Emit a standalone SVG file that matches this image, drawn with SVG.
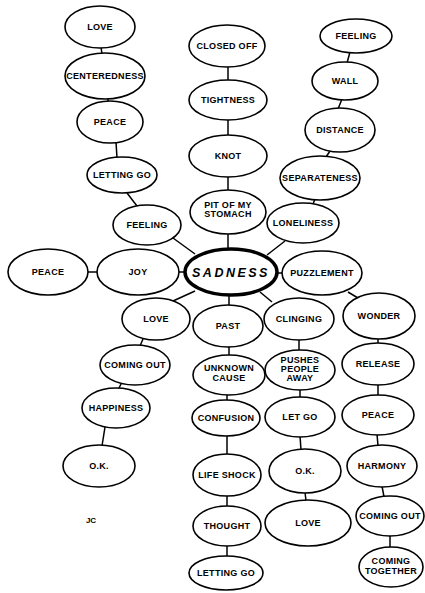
<svg xmlns="http://www.w3.org/2000/svg" width="425" height="593" viewBox="0 0 425 593">
<style>
.n ellipse{fill:#fff;stroke:#000;stroke-width:1.6}
.n text{font-family:"Liberation Sans",Arial,sans-serif;font-size:9px;font-weight:bold;text-anchor:middle;fill:#000;letter-spacing:0.3px}
#c line{stroke:#000;stroke-width:1.5}
</style>
<rect width="425" height="593" fill="#fff"/>
<g id="c">
<line x1="101" y1="47" x2="102" y2="54"/>
<line x1="108" y1="98" x2="108" y2="102"/>
<line x1="116" y1="142" x2="117" y2="158"/>
<line x1="127" y1="193" x2="137" y2="206"/>
<line x1="173" y1="238" x2="195" y2="254"/>
<line x1="228" y1="66" x2="228" y2="81"/>
<line x1="228" y1="119" x2="228" y2="135"/>
<line x1="228" y1="176" x2="228" y2="190"/>
<line x1="228" y1="233" x2="228" y2="250"/>
<line x1="350" y1="52" x2="347" y2="63"/>
<line x1="342" y1="99" x2="338" y2="109"/>
<line x1="330" y1="151" x2="326" y2="157"/>
<line x1="315" y1="199" x2="313" y2="204"/>
<line x1="267" y1="255" x2="285" y2="241"/>
<line x1="276" y1="273" x2="283" y2="273"/>
<line x1="179" y1="272" x2="186" y2="272"/>
<line x1="87" y1="272" x2="98" y2="272"/>
<line x1="173" y1="301" x2="195" y2="291"/>
<line x1="229" y1="294" x2="229" y2="306"/>
<line x1="260" y1="292" x2="272" y2="302"/>
<line x1="348" y1="292" x2="358" y2="298"/>
<line x1="299" y1="339" x2="299" y2="351"/>
<line x1="378" y1="338" x2="378" y2="344"/>
<line x1="378" y1="384" x2="378" y2="396"/>
<line x1="377" y1="434" x2="378" y2="446"/>
<line x1="382" y1="486" x2="384" y2="497"/>
<line x1="390" y1="536" x2="390" y2="548"/>
<line x1="300" y1="389" x2="300" y2="398"/>
<line x1="300" y1="436" x2="301" y2="450"/>
<line x1="305" y1="492" x2="306" y2="501"/>
<line x1="229" y1="346" x2="229" y2="356"/>
<line x1="227" y1="394" x2="227" y2="401"/>
<line x1="227" y1="435" x2="227" y2="455"/>
<line x1="227" y1="495" x2="227" y2="507"/>
<line x1="227" y1="546" x2="227" y2="557"/>
<line x1="143" y1="339" x2="140" y2="346"/>
<line x1="121" y1="384" x2="118" y2="390"/>
<line x1="105" y1="427" x2="102" y2="446"/>
</g>
<g id="sadness" class="n"><ellipse cx="231" cy="272" rx="46" ry="23" style="stroke-width:3.5"/><text x="231" y="277" style="font-size:12.5px;font-style:italic;letter-spacing:2.5px">SADNESS</text></g>
<g id="love1" class="n"><ellipse cx="100" cy="27" rx="35" ry="21"/><text x="100" y="30">LOVE</text></g>
<g id="centeredness" class="n"><ellipse cx="105" cy="76" rx="40" ry="23"/><text x="105" y="79">CENTEREDNESS</text></g>
<g id="peace1" class="n"><ellipse cx="110" cy="122" rx="33" ry="21"/><text x="110" y="125">PEACE</text></g>
<g id="lettinggo1" class="n"><ellipse cx="122" cy="175" rx="35" ry="18"/><text x="122" y="178">LETTING GO</text></g>
<g id="feeling1" class="n"><ellipse cx="147" cy="225" rx="34" ry="20"/><text x="147" y="228">FEELING</text></g>
<g id="closedoff" class="n"><ellipse cx="227" cy="46" rx="38" ry="21"/><text x="227" y="49">CLOSED OFF</text></g>
<g id="tightness" class="n"><ellipse cx="228" cy="100" rx="39" ry="20"/><text x="228" y="103">TIGHTNESS</text></g>
<g id="knot" class="n"><ellipse cx="228" cy="156" rx="39" ry="21"/><text x="228" y="159">KNOT</text></g>
<g id="pit" class="n"><ellipse cx="228" cy="212" rx="38" ry="22"/><text x="228" y="208">PIT OF MY</text><text x="228" y="217">STOMACH</text></g>
<g id="feeling2" class="n"><ellipse cx="356" cy="36" rx="36" ry="17"/><text x="356" y="39">FEELING</text></g>
<g id="wall" class="n"><ellipse cx="345" cy="81" rx="33" ry="19"/><text x="345" y="84">WALL</text></g>
<g id="distance" class="n"><ellipse cx="340" cy="130" rx="35" ry="22"/><text x="340" y="133">DISTANCE</text></g>
<g id="separateness" class="n"><ellipse cx="320" cy="178" rx="40" ry="22"/><text x="320" y="181">SEPARATENESS</text></g>
<g id="loneliness" class="n"><ellipse cx="303" cy="223" rx="36" ry="20"/><text x="303" y="226">LONELINESS</text></g>
<g id="puzzlement" class="n"><ellipse cx="322" cy="273" rx="40" ry="22"/><text x="322" y="276">PUZZLEMENT</text></g>
<g id="wonder" class="n"><ellipse cx="379" cy="316" rx="36" ry="23"/><text x="379" y="319">WONDER</text></g>
<g id="release" class="n"><ellipse cx="378" cy="364" rx="36" ry="21"/><text x="378" y="367">RELEASE</text></g>
<g id="peace3" class="n"><ellipse cx="378" cy="415" rx="36" ry="20"/><text x="378" y="418">PEACE</text></g>
<g id="harmony" class="n"><ellipse cx="382" cy="466" rx="35" ry="21"/><text x="382" y="469">HARMONY</text></g>
<g id="comingout2" class="n"><ellipse cx="390" cy="516" rx="34" ry="20"/><text x="390" y="519">COMING OUT</text></g>
<g id="comingtogether" class="n"><ellipse cx="391" cy="567" rx="32" ry="20"/><text x="391" y="564">COMING</text><text x="391" y="574">TOGETHER</text></g>
<g id="clinging" class="n"><ellipse cx="299" cy="319" rx="35" ry="21"/><text x="299" y="322">CLINGING</text></g>
<g id="pushes" class="n"><ellipse cx="300" cy="370" rx="35" ry="20"/><text x="300" y="363">PUSHES</text><text x="300" y="372">PEOPLE</text><text x="300" y="381">AWAY</text></g>
<g id="letgo" class="n"><ellipse cx="300" cy="417" rx="35" ry="20"/><text x="300" y="420">LET GO</text></g>
<g id="ok2" class="n"><ellipse cx="305" cy="471" rx="36" ry="22"/><text x="305" y="474">O.K.</text></g>
<g id="love3" class="n"><ellipse cx="308" cy="523" rx="43" ry="23"/><text x="308" y="526">LOVE</text></g>
<g id="peace2" class="n"><ellipse cx="48" cy="272" rx="40" ry="23"/><text x="48" y="275">PEACE</text></g>
<g id="joy" class="n"><ellipse cx="138" cy="272" rx="41" ry="23"/><text x="138" y="275">JOY</text></g>
<g id="love2" class="n"><ellipse cx="156" cy="319" rx="34" ry="21"/><text x="156" y="322">LOVE</text></g>
<g id="comingout1" class="n"><ellipse cx="135" cy="365" rx="35" ry="20"/><text x="135" y="368">COMING OUT</text></g>
<g id="happiness" class="n"><ellipse cx="116" cy="408" rx="34" ry="20"/><text x="116" y="411">HAPPINESS</text></g>
<g id="ok1" class="n"><ellipse cx="99" cy="466" rx="36" ry="21"/><text x="99" y="469">O.K.</text></g>
<g id="past" class="n"><ellipse cx="228" cy="326" rx="35" ry="21"/><text x="228" y="329">PAST</text></g>
<g id="unknown" class="n"><ellipse cx="229" cy="375" rx="36" ry="20"/><text x="229" y="371">UNKNOWN</text><text x="229" y="381">CAUSE</text></g>
<g id="confusion" class="n"><ellipse cx="226" cy="418" rx="34" ry="18"/><text x="226" y="421">CONFUSION</text></g>
<g id="lifeshock" class="n"><ellipse cx="227" cy="475" rx="34" ry="21"/><text x="227" y="478">LIFE SHOCK</text></g>
<g id="thought" class="n"><ellipse cx="227" cy="526" rx="34" ry="20"/><text x="227" y="529">THOUGHT</text></g>
<g id="lettinggo2" class="n"><ellipse cx="226" cy="573" rx="37" ry="17"/><text x="226" y="576">LETTING GO</text></g>
<text x="91" y="523" style="font-family:'Liberation Sans',Arial,sans-serif;font-size:8px;font-weight:bold;text-anchor:middle">JC</text>
</svg>
